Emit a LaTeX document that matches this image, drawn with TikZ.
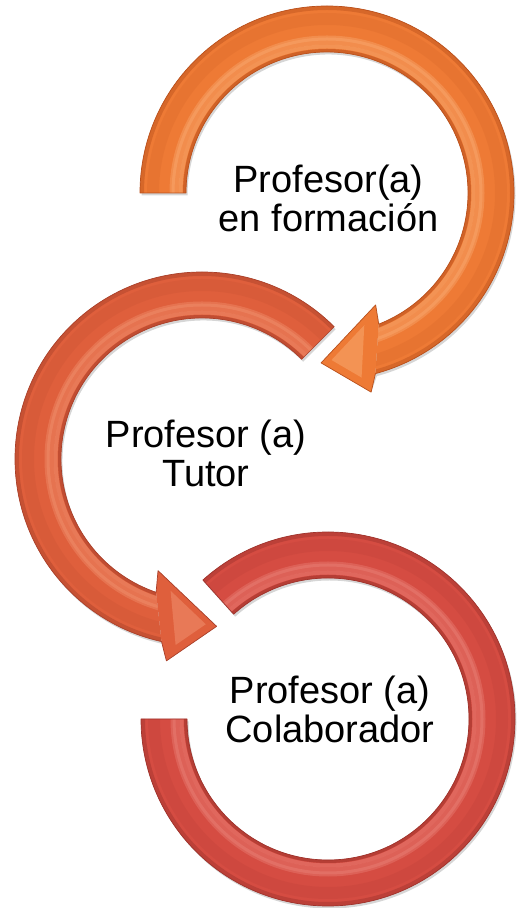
\documentclass[tikz,border=0pt]{standalone}
\usepackage{fontspec}
\setmainfont{Liberation Sans}
\usetikzlibrary{calc}
\definecolor{aoB}{HTML}{EE7A35}
\definecolor{aoL}{HTML}{FBB27A}
\definecolor{aoD}{HTML}{B9501C}
\definecolor{atB}{HTML}{DF5F3C}
\definecolor{atL}{HTML}{F49A78}
\definecolor{atD}{HTML}{A9402A}
\definecolor{arB}{HTML}{D54C42}
\definecolor{arL}{HTML}{EE8A80}
\definecolor{arD}{HTML}{9E332C}
\newcommand\tubeStripes[3]{%
  \fill[#1] (0,0) circle (190);
  \draw[#3, line width=4pt, opacity=0.55] (0,0) circle (142);
  \draw[#2, line width=4pt, opacity=0.45] (0,0) circle (146.5);
  \draw[#2, line width=9pt, opacity=0.35] (0,0) circle (153);
  \draw[#2, line width=3pt, opacity=0.35] (0,0) circle (154);
  \draw[#3, line width=12pt, opacity=0.12] (0,0) circle (174);
  \draw[#3, line width=5pt, opacity=0.45] (0,0) circle (185.5);
}
\begin{document}
\begin{tikzpicture}[x=1pt,y=1pt,
  lbl/.style={align=center, anchor=base, inner sep=0pt,
    font=\fontsize{38}{39.5}\selectfont, text=black},
  edge/.style={line width=0.7pt, line join=round},
  shadowfill/.style={fill=black, opacity=0.16}]
\useasboundingbox (0,0) rectangle (518,908);
\coordinate (c1) at (327,715);
\coordinate (c2) at (202,449);
\coordinate (c3) at (328,189);
% ---------- arrow 3 (bottom, red, no head)
\begin{scope}[shift={(c3)}]
  \fill[shadowfill, shift={(1.5,-2.5)}] (132:187) arc[start angle=132, end angle=-180, radius=187]
      -- (-180:141) arc[start angle=-180, end angle=132, radius=141] -- cycle;
  \begin{scope}
    \clip (132:187) arc[start angle=132, end angle=-180, radius=187]
      -- (-180:141) arc[start angle=-180, end angle=132, radius=141] -- cycle;
    \tubeStripes{arB}{arL}{arD}
  \end{scope}
  \draw[edge, draw=arD] (132:187) arc[start angle=132, end angle=-180, radius=187]
      -- (-180:141) arc[start angle=-180, end angle=132, radius=141] -- cycle;
\end{scope}
% ---------- arrow 2 (middle, red-orange, counter-clockwise)
\begin{scope}[shift={(c2)}]
  \coordinate (h2t) at (275:168);
  \coordinate (h2i) at (248.5:120);
  \coordinate (h2o) at (260:205);
  \coordinate (h2g) at ($(h2t)!0.5!($(h2i)!0.5!(h2o)$)$);
  \fill[shadowfill, shift={(1.5,-2.5)}] (45:187) arc[start angle=45, end angle=257.5, radius=187]
      -- (h2o) -- (h2t) -- (h2i) -- (251:141)
      arc[start angle=251, end angle=45, radius=141] -- cycle;
  \begin{scope}
    \clip (45:187) arc[start angle=45, end angle=257.5, radius=187]
      -- (251:141) arc[start angle=251, end angle=45, radius=141] -- cycle;
    \tubeStripes{atB}{atL}{atD}
  \end{scope}
  \fill[atB] (257.5:187) -- (h2o) -- (h2t) -- (h2i) -- (251:141) -- cycle;
  \fill[atL, opacity=0.45] ($(h2g)!0.6!(h2t)$) -- ($(h2g)!0.6!(h2i)$) -- ($(h2g)!0.6!(h2o)$) -- cycle;
  \draw[edge, draw=atD] (45:187) arc[start angle=45, end angle=257.5, radius=187]
      -- (h2o) -- (h2t) -- (h2i) -- (251:141)
      arc[start angle=251, end angle=45, radius=141] -- cycle;
\end{scope}
% ---------- arrow 1 (top, orange, clockwise)
\begin{scope}[shift={(c1)}]
  \coordinate (h1t) at (-92:170);
  \coordinate (h1i) at (-66.5:122);
  \coordinate (h1o) at (-77.5:204);
  \coordinate (h1g) at ($(h1t)!0.5!($(h1i)!0.5!(h1o)$)$);
  \fill[shadowfill, shift={(1.5,-2.5)}] (180:187) arc[start angle=180, end angle=-75, radius=187]
      -- (h1o) -- (h1t) -- (h1i) -- (-68.5:141)
      arc[start angle=-68.5, end angle=180, radius=141] -- cycle;
  \begin{scope}
    \clip (180:187) arc[start angle=180, end angle=-75, radius=187]
      -- (-68.5:141) arc[start angle=-68.5, end angle=180, radius=141] -- cycle;
    \tubeStripes{aoB}{aoL}{aoD}
  \end{scope}
  \fill[aoB] (-75:187) -- (h1o) -- (h1t) -- (h1i) -- (-68.5:141) -- cycle;
  \fill[aoL, opacity=0.45] ($(h1g)!0.6!(h1t)$) -- ($(h1g)!0.6!(h1i)$) -- ($(h1g)!0.6!(h1o)$) -- cycle;
  \draw[edge, draw=aoD] (180:187) arc[start angle=180, end angle=-75, radius=187]
      -- (h1o) -- (h1t) -- (h1i) -- (-68.5:141)
      arc[start angle=-68.5, end angle=180, radius=141] -- cycle;
\end{scope}
% ---------- labels (anchor = baseline of the last line)
\node[lbl] (t1) at (328.5,676) {Profesor(a)\\en formación};
\node[lbl] (t2) at (206,421) {Profesor (a)\\Tutor};
\node[lbl] (t3) at (330,165) {Profesor (a)\\Colaborador};
\end{tikzpicture}
\end{document}
